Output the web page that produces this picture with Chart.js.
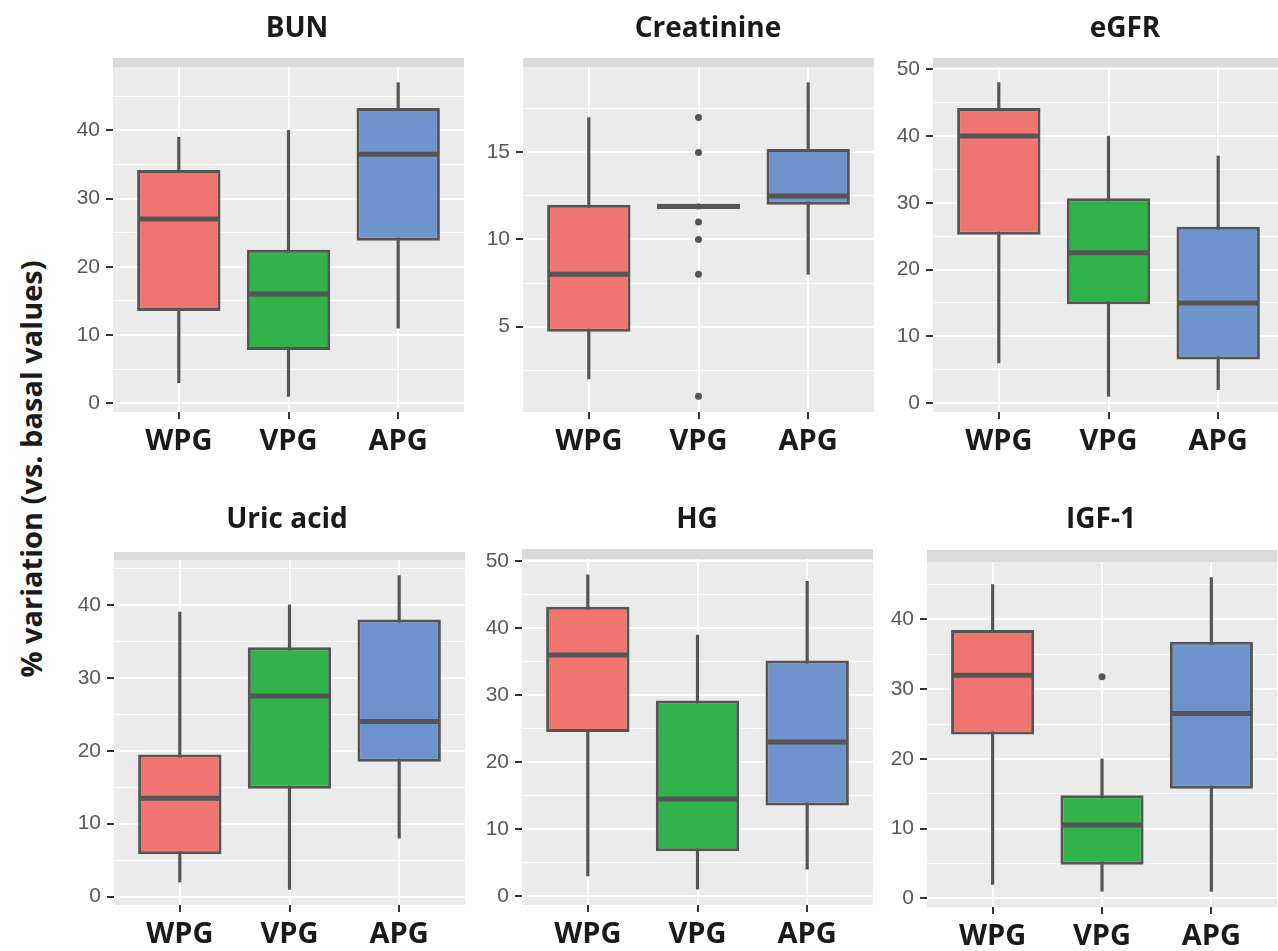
<!DOCTYPE html>
<html lang="en">
<head>
  <meta charset="UTF-8" />
  <title>% variation vs. basal values</title>
  <script src="https://cdn.jsdelivr.net/npm/chart.js"></script>
  <style>
    body {
      margin: 0;
      width: 1278px;
      height: 951px;
      overflow: hidden;
      background: #ffffff;
      position: relative;
    }
    canvas {
      position: absolute;
    }
    #ytitle {
      position: absolute;
      left: 30px;
      top: 469px;
      transform: translate(-50%, -50%) rotate(-90deg);
      white-space: nowrap;
      font: 700 29px 'Open Sans', sans-serif;
      color: #1a1a1a;
    }
  </style>
</head>
<body>
  <div id="ytitle">% variation (vs. basal values)</div>

  <script>
    const groups = ['WPG', 'VPG', 'APG'];
    const panelTitles = ['BUN', 'Creatinine', 'eGFR', 'Uric acid', 'HG', 'IGF-1'];

    // [lower whisker, Q1, median, Q3, upper whisker] for WPG, VPG, APG
    const bunStats = [[3, 13.5, 27, 34.2, 39], [1, 7.8, 16, 22.5, 40], [11, 23.8, 36.5, 43.3, 47]];
    const creatinineStats = [[2, 4.7, 8, 12, 17], [11.75, 11.75, 11.9, 12.05, 12.05], [8, 12, 12.5, 15.2, 19]];
    const egfrStats = [[6, 25.2, 40, 44.2, 48], [1, 14.8, 22.5, 30.7, 40], [2, 6.5, 15, 26.4, 37]];
    const uricStats = [[2, 5.8, 13.5, 19.5, 39], [1, 14.8, 27.5, 34.2, 40], [8, 18.5, 24, 38, 44]];
    const hgStats = [[3, 24.5, 36, 43.2, 48], [1, 6.7, 14.5, 29.2, 39], [4, 13.5, 23, 35.2, 47]];
    const igfStats = [[2, 23.5, 32, 38.5, 45], [1, 4.8, 10.5, 14.8, 20], [1, 15.7, 26.5, 36.8, 46]];

    // outlying points per group
    const noOutliers = [[], [], []];
    const creatinineOutliers = [[], [17, 15, 11, 10, 8, 1], []];
    const igfOutliers = [[], [31.8], []];

    // y tick labels and minor grid positions
    const ticks0to40 = [0, 10, 20, 30, 40];
    const ticks0to50 = [0, 10, 20, 30, 40, 50];
    const ticksCreatinine = [5, 10, 15];
    const minor5to45 = [5, 15, 25, 35, 45];
    const minorCreatinine = [2.5, 7.5, 12.5, 17.5];

    const groupColors = ['#F07570', '#2FB34A', '#6F93CD'];
    const lineColor = '#555555';
    const Y_W = 80;   // room for y tick labels
    const X_H = 60;   // room for x tick labels
    const HEAD = 64;  // room for title + strip above the plot

    // plot = [left, top, right, bottom] of the grey panel, titleAt = [centre x, baseline y]
    const panels = [
      { title: panelTitles[0], stats: bunStats, outliers: noOutliers, major: ticks0to40, minor: minor5to45,
        yMin: -1.3, yMax: 49.3, plot: [113, 67, 464, 412], titleAt: [297, 37], strip: 9 },
      { title: panelTitles[1], stats: creatinineStats, outliers: creatinineOutliers, major: ticksCreatinine, minor: minorCreatinine,
        yMin: 0.1, yMax: 19.9, plot: [523, 67, 874, 412], titleAt: [708, 37], strip: 9 },
      { title: panelTitles[2], stats: egfrStats, outliers: noOutliers, major: ticks0to50, minor: minor5to45,
        yMin: -1.35, yMax: 50.35, plot: [933, 67, 1284, 412], titleAt: [1125, 37], strip: 9 },
      { title: panelTitles[3], stats: uricStats, outliers: noOutliers, major: ticks0to40, minor: minor5to45,
        yMin: -1.15, yMax: 46.15, plot: [114, 560, 465, 905], titleAt: [287, 528], strip: 8 },
      { title: panelTitles[4], stats: hgStats, outliers: noOutliers, major: ticks0to50, minor: minor5to45,
        yMin: -1.35, yMax: 50.35, plot: [522, 559, 873, 905], titleAt: [697, 528], strip: 10 },
      { title: panelTitles[5], stats: igfStats, outliers: igfOutliers, major: ticks0to40, minor: minor5to45,
        yMin: -1.25, yMax: 48.25, plot: [927, 562, 1277, 907], titleAt: [1101, 528], strip: 12 }
    ];

    // grey panel background, facet strip and facet title
    const facetDecor = {
      id: 'facetDecor',
      beforeDraw(chart, args, opts) {
        const { ctx, chartArea: a } = chart;
        ctx.save();
        ctx.fillStyle = '#EBEBEB';
        ctx.fillRect(a.left, a.top, a.right - a.left, a.bottom - a.top);
        ctx.fillStyle = '#DADADB';
        ctx.fillRect(a.left, a.top - opts.strip, a.right - a.left, opts.strip);
        ctx.restore();
      },
      afterDraw(chart, args, opts) {
        const ctx = chart.ctx;
        ctx.save();
        ctx.font = '700 28px "Open Sans"';
        ctx.fillStyle = '#1a1a1a';
        ctx.textAlign = 'center';
        ctx.textBaseline = 'alphabetic';
        ctx.fillText(opts.title, opts.x, opts.y);
        ctx.restore();
      }
    };

    panels.forEach(p => {
      const [pl, pt, pr, pb] = p.plot;
      const left = pl - Y_W;
      const top = pt - HEAD;
      const canvas = document.createElement('canvas');
      canvas.width = Y_W + (pr - pl);
      canvas.height = HEAD + (pb - pt) + X_H;
      canvas.style.left = left + 'px';
      canvas.style.top = top + 'px';
      document.body.appendChild(canvas);

      const isMajor = v => p.major.includes(v);

      new Chart(canvas, {
        type: 'bar',
        data: {
          datasets: [
            {
              type: 'scatter',
              data: p.outliers.flatMap((vals, i) => vals.map(v => ({ x: i + 1, y: v }))),
              pointRadius: 3.5,
              pointBackgroundColor: lineColor,
              pointBorderWidth: 0,
              order: 0
            },
            {
              type: 'scatter',
              data: p.stats.map((s, i) => ({ x: i + 1, y: s[2] })),
              pointStyle: 'line',
              pointRadius: 40,
              pointBorderColor: lineColor,
              pointBorderWidth: 5,
              order: 1
            },
            {
              data: p.stats.map((s, i) => ({ x: i + 1, y: [s[1], s[3]] })),
              backgroundColor: groupColors,
              borderColor: lineColor,
              borderWidth: 3,
              borderSkipped: false,
              grouped: false,
              categoryPercentage: 1,
              barPercentage: 0.76,
              order: 2
            },
            {
              data: p.stats.map((s, i) => ({ x: i + 1, y: [s[0], s[4]] })),
              backgroundColor: lineColor,
              barThickness: 2.5,
              grouped: false,
              order: 3
            }
          ]
        },
        options: {
          responsive: false,
          animation: false,
          events: [],
          layout: { autoPadding: false, padding: { top: HEAD, left: 0, right: 0, bottom: 0 } },
          plugins: {
            legend: { display: false },
            tooltip: { enabled: false },
            facetDecor: { title: p.title, x: p.titleAt[0] - left, y: p.titleAt[1] - top, strip: p.strip }
          },
          scales: {
            x: {
              type: 'linear',
              min: 0.4,
              max: 3.6,
              offset: false,
              afterBuildTicks: s => { s.ticks = groups.map((g, i) => ({ value: i + 1 })); },
              afterFit: s => {
                s.height = X_H;
                s.paddingLeft = 0;
                s.paddingRight = 0;
              },
              border: { display: false },
              grid: { offset: false, color: '#FFFFFF', lineWidth: 2, tickColor: '#333333', tickLength: 7, tickWidth: 2 },
              ticks: {
                autoSkip: false,
                maxRotation: 0,
                padding: 5,
                color: '#1a1a1a',
                font: { family: 'Open Sans', weight: 'bold', size: 29 },
                callback: v => groups[v - 1]
              }
            },
            y: {
              min: p.yMin,
              max: p.yMax,
              beginAtZero: false,
              afterBuildTicks: s => {
                s.ticks = p.major.concat(p.minor).sort((a, b) => a - b).map(v => ({ value: v }));
              },
              afterFit: s => {
                s.width = Y_W;
                s.paddingTop = 0;
                s.paddingBottom = 0;
              },
              border: { display: false },
              grid: {
                color: '#FFFFFF',
                lineWidth: c => (c.tick && isMajor(c.tick.value)) ? 2 : 1,
                tickColor: c => (c.tick && isMajor(c.tick.value)) ? '#333333' : 'rgba(0,0,0,0)',
                tickLength: 7,
                tickWidth: 2
              },
              ticks: {
                autoSkip: false,
                padding: 6,
                color: '#595959',
                font: { family: 'Liberation Sans', size: 21 },
                callback: v => isMajor(v) ? String(v) : ''
              }
            }
          }
        },
        plugins: [facetDecor]
      });
    });
  </script>
</body>
</html>
